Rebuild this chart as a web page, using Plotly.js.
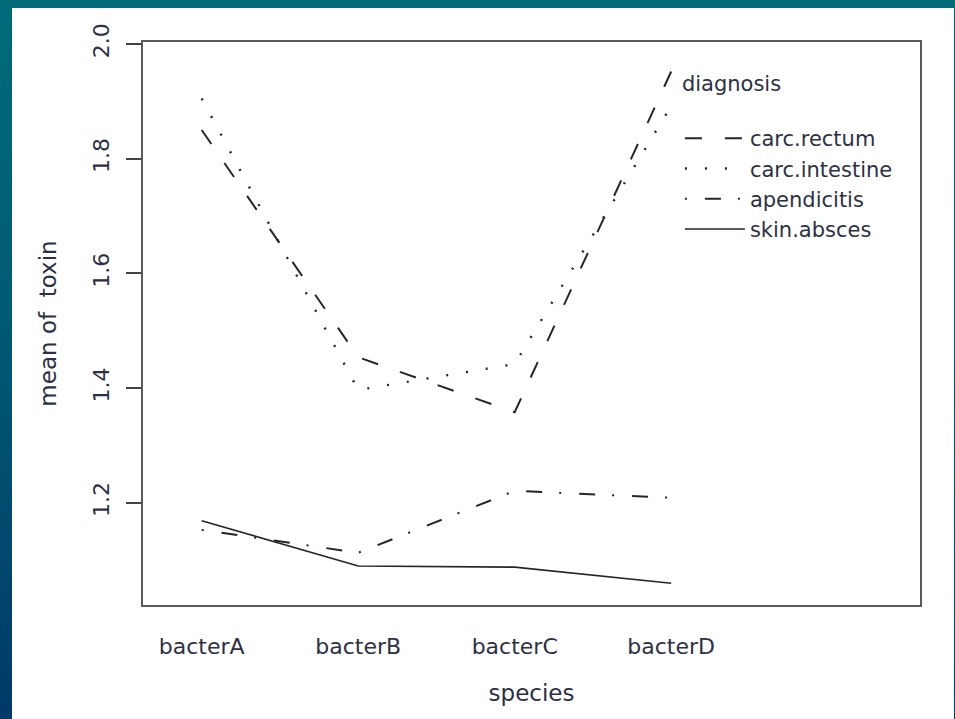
<!DOCTYPE html>
<html>
<head>
<meta charset="utf-8">
<script src="https://cdn.plot.ly/plotly-3.0.1.min.js"></script>
<style>
  html, body { margin: 0; padding: 0; width: 955px; height: 719px; overflow: hidden;
    background: linear-gradient(to bottom, #006b78 0%, #005a74 45%, #003a68 100%); }
  #chart { position: absolute; left: 12px; top: 8px; width: 942px; height: 711px; background: #ffffff; }
</style>
</head>
<body>
<div id="chart"></div>
<script>
// Data
const species = ["bacterA", "bacterB", "bacterC", "bacterD"];
const diagnoses = ["carc.rectum", "carc.intestine", "apendicitis", "skin.absces"];
const carcRectum    = [1.85, 1.454, 1.358, 1.952];
const carcIntestine = [1.905, 1.397, 1.442, 1.892];
const apendicitis   = [1.153, 1.113, 1.221, 1.209];
const skinAbsces    = [1.169, 1.090, 1.088, 1.060];
const yTicks = [1.2, 1.4, 1.6, 1.8, 2.0];
const yTickLabels = ["1.2", "1.4", "1.6", "1.8", "2.0"];

const seriesValues = [carcRectum, carcIntestine, apendicitis, skinAbsces];
const dashes = ["17px,23px", "2px,18px", "2px,18px,16px,17px", "solid"];
const widths = [2, 2.4, 2, 1.6];

const FONT = "DejaVu Sans, Noto Sans, sans-serif";
const TXT = "#2d3045";

const traces = diagnoses.map((name, i) => ({
  type: "scatter",
  mode: "lines",
  name: name,
  legendgroup: name,
  x: species,
  y: seriesValues[i],
  line: { color: "#262626", width: widths[i], dash: dashes[i] },
  hoverinfo: "x+y+name"
}));

const layout = {
  width: 942,
  height: 711,
  paper_bgcolor: "#ffffff",
  plot_bgcolor: "#ffffff",
  margin: { l: 131, r: 34, t: 34, b: 114 },
  font: { family: FONT, size: 21, color: TXT },
  showlegend: true,
  legend: {
    x: 0.691, xanchor: "left",
    y: 0.962, yanchor: "top",
    bgcolor: "rgba(0,0,0,0)",
    borderwidth: 0,
    itemwidth: 60,
    tracegroupgap: 2,
    traceorder: "normal",
    font: { family: FONT, size: 21, color: TXT },
    title: { text: "diagnosis<br> ", side: "top", font: { family: FONT, size: 21, color: TXT } }
  },
  xaxis: {
    type: "category",
    categoryorder: "array",
    categoryarray: species,
    range: [-0.375, 4.59],
    showgrid: false,
    zeroline: false,
    showline: true,
    mirror: true,
    linecolor: "#5a5a5a",
    linewidth: 2,
    ticks: "",
    ticklabelstandoff: 21,
    tickfont: { family: FONT, size: 22, color: TXT },
    title: { text: "species", font: { family: FONT, size: 23, color: TXT }, standoff: 26 }
  },
  yaxis: {
    range: [1.022, 2.0035],
    tickvals: yTicks,
    ticktext: yTickLabels,
    tickangle: -90,
    showgrid: false,
    zeroline: false,
    showline: true,
    mirror: true,
    linecolor: "#5a5a5a",
    linewidth: 2,
    ticks: "outside",
    ticklen: 15,
    tickwidth: 1.5,
    tickcolor: "#444444",
    ticklabelstandoff: 8,
    tickfont: { family: FONT, size: 22, color: TXT },
    title: { text: "mean of  toxin", font: { family: FONT, size: 23, color: TXT }, standoff: 26 }
  }
};

Plotly.newPlot("chart", traces, layout, { displayModeBar: false }).then(gd => {
  // widen the legend line samples to match the R-style legend keys
  gd.querySelectorAll(".legend .legendlines path").forEach(p => p.setAttribute("d", "M5,0h60"));
});
</script>
</body>
</html>
